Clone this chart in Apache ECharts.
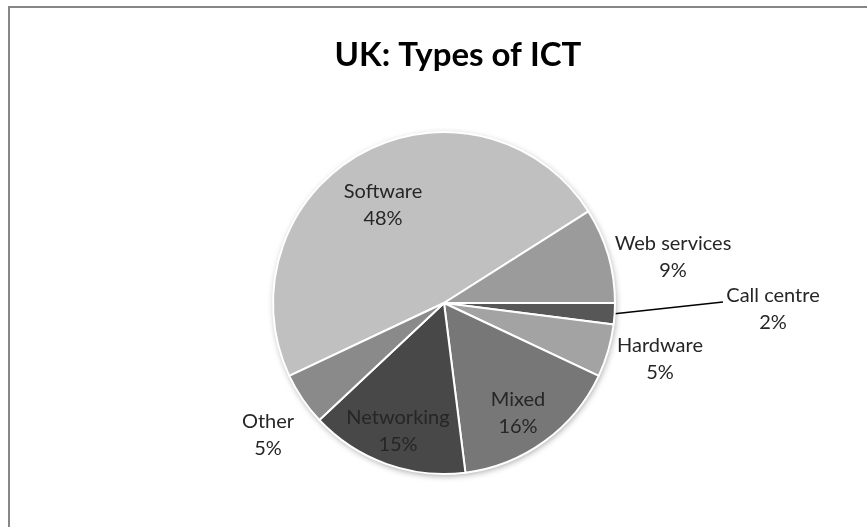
<!DOCTYPE html>
<html>
<head>
<meta charset="utf-8">
<style>
  html, body { margin: 0; padding: 0; background: #ffffff; }
  #chart { width: 867px; height: 527px; }
</style>
<script src="https://cdn.jsdelivr.net/npm/echarts@6/dist/echarts.min.js"></script>
</head>
<body>
<div id="chart"></div>
<script>
// Shares of ICT business types in the UK (percent)
const categories = ['Software', 'Web services', 'Call centre', 'Hardware', 'Mixed', 'Networking', 'Other'];
const shares = [48, 9, 2, 5, 16, 15, 5];
const sliceColors = ['#c0c0c0', '#9b9b9b', '#575757', '#a3a3a3', '#777777', '#484848', '#8a8a8a'];

// Label anchor offsets from the pie centre, in pixels
const labelOffsets = [[-61, -98], [229, -46], [329, 6], [216, 56], [74, 110], [-46, 128], [-176, 132]];
// End point of the leader line for the thin slice, offset from the pie centre
const leaderEnd = [279, -1];
const leaderIndex = 2;

const cx = 444, cy = 303, R = 171;
const startAngle = 205.2;

const chart = echarts.init(document.getElementById('chart'), null, { renderer: 'canvas' });

const total = shares.reduce((a, b) => a + b, 0);
function midAngleDeg(i) {
  let before = 0;
  for (let k = 0; k < i; k++) before += shares[k];
  const mid = before + shares[i] / 2;
  return startAngle - mid / total * 360;
}

const data = categories.map((name, i) => ({
  name: name,
  value: shares[i],
  itemStyle: { color: sliceColors[i] },
  labelLine: { show: i === leaderIndex, lineStyle: { color: '#000000', width: 1.5 } }
}));

const option = {
  backgroundColor: '#ffffff',
  animation: false,
  title: {
    text: 'UK: Types of ICT',
    left: 453,
    top: 34,
    textAlign: 'center',
    textStyle: { fontFamily: 'Lato', fontWeight: 'bold', fontSize: 33, color: '#000000' }
  },
  graphic: [{
    type: 'rect',
    shape: { x: 9, y: 7, width: 900, height: 600 },
    style: { fill: 'none', stroke: '#878787', lineWidth: 2 },
    silent: true
  }],
  series: [
    {
      // soft backdrop that casts the pie's shadow
      type: 'pie',
      silent: true,
      center: [cx, cy],
      radius: R,
      startAngle: startAngle,
      label: { show: false },
      labelLine: { show: false },
      itemStyle: {
        color: '#ffffff',
        shadowBlur: 6,
        shadowOffsetX: 1,
        shadowOffsetY: 2,
        shadowColor: 'rgba(0,0,0,0.35)'
      },
      data: [{ value: 1, name: '' }],
      z: 1
    },
    {
      type: 'pie',
      center: [cx, cy],
      radius: R,
      startAngle: startAngle,
      clockwise: true,
      avoidLabelOverlap: false,
      itemStyle: { borderColor: '#ffffff', borderWidth: 2 },
      label: {
        show: true,
        position: 'outside',
        formatter: p => p.name + '\n' + p.value + '%',
        fontFamily: 'Lato',
        fontSize: 20,
        lineHeight: 27,
        color: '#262626',
        align: 'center'
      },
      labelLine: { show: false },
      labelLayout: function (params) {
        const i = params.dataIndex;
        const o = labelOffsets[i];
        const res = {
          x: cx + o[0],
          y: cy + o[1],
          align: 'center',
          verticalAlign: 'middle'
        };
        if (i === leaderIndex) {
          const a = midAngleDeg(i) * Math.PI / 180;
          const sx = cx + R * Math.cos(a);
          const sy = cy - R * Math.sin(a);
          const ex = cx + leaderEnd[0];
          const ey = cy + leaderEnd[1];
          res.labelLinePoints = [[sx, sy], [ex, ey], [ex, ey]];
        }
        return res;
      },
      data: data,
      z: 2
    }
  ]
};

chart.setOption(option);
</script>
</body>
</html>
